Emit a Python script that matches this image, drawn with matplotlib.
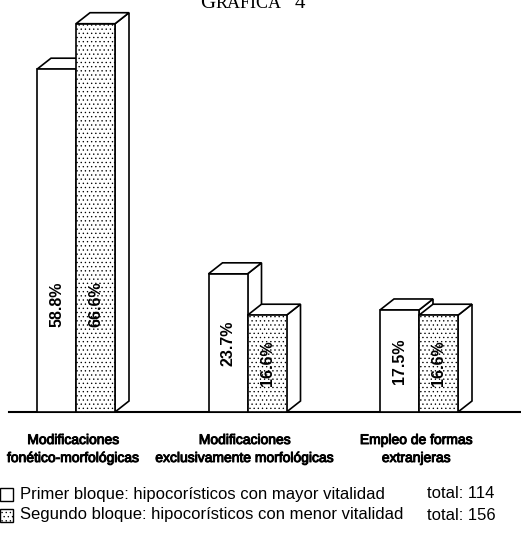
import matplotlib
matplotlib.use("Agg")
import matplotlib.pyplot as plt
import matplotlib.patheffects as pe
from matplotlib.patches import Rectangle, Polygon

# datos
categorias = [["Modificaciones", "fonético-morfológicas"],
              ["Modificaciones", "exclusivamente morfológicas"],
              ["Empleo de formas", "extranjeras"]]
primer_bloque = [58.8, 23.7, 17.5]
segundo_bloque = [66.6, 16.6, 16.6]
leyenda = ["Primer bloque: hipocorísticos con mayor vitalidad",
           "Segundo bloque: hipocorísticos con menor vitalidad"]
totales = ["total: 114", "total: 156"]

W, H = 521, 535
fig = plt.figure(figsize=(W / 100, H / 100), dpi=100)
ax = fig.add_axes([0, 0, 1, 1])

# escala: px por unidad
px_x = 171.5
px_y = 5.83
x0_px, base_px = 76, 412
ax.set_xlim(-x0_px / px_x, (W - x0_px) / px_x)
ax.set_ylim(-(H - base_px) / px_y, base_px / px_y)
ax.axis("off")

ancho = 39 / px_x
dx = 14 / px_x
dy = 11 / px_y

sans = ["Liberation Sans", "DejaVu Sans"]
grueso = [pe.withStroke(linewidth=0.7, foreground="black")]

plt.rcParams["hatch.linewidth"] = 0.45


def barra3d(x, h, punteada, z):
    frente = Rectangle((x, 0), ancho, h, facecolor="white", edgecolor="black",
                       lw=1.2, zorder=z, hatch="...." if punteada else None)
    arriba = Polygon([(x, h), (x + dx, h + dy), (x + ancho + dx, h + dy), (x + ancho, h)],
                     closed=True, facecolor="white", edgecolor="black", lw=1.2, zorder=z)
    lado = Polygon([(x + ancho, 0), (x + ancho + dx, dy), (x + ancho + dx, h + dy), (x + ancho, h)],
                   closed=True, facecolor="white", edgecolor="black", lw=1.2, zorder=z)
    for p in (lado, arriba, frente):
        ax.add_patch(p)


for i in range(len(categorias)):
    barra3d(i - ancho, primer_bloque[i], False, 2 + 2 * i)
    barra3d(i, segundo_bloque[i], True, 3 + 2 * i)
    for xb, v in ((i - ancho / 2, primer_bloque[i]), (i + ancho / 2, segundo_bloque[i])):
        ax.text(xb, min(v / 2, 18.5), f"{v:.1f}%", rotation=90, ha="center", va="center",
                fontsize=11.5, fontweight="bold", family=sans, zorder=20)
    ax.text(i - 0.015, -28 / px_y, categorias[i][0], ha="center", va="center",
            fontsize=10, family=sans, path_effects=grueso)
    ax.text(i - 0.015, -46 / px_y, categorias[i][1], ha="center", va="center",
            fontsize=10, family=sans, path_effects=grueso)

# línea base
ax.plot([(9 - x0_px) / px_x, (W - x0_px) / px_x], [0, 0], color="black", lw=1.5, zorder=1)

# título (versalitas)
fig.text(200 / W, 1 - 8 / H, "G", family=["Liberation Serif"], fontsize=15, va="baseline")
fig.text(216 / W, 1 - 8 / H, "RÁFICA", family=["Liberation Serif"], fontsize=13, va="baseline")
fig.text(295 / W, 1 - 8 / H, "4", family=["Liberation Serif"], fontsize=15, va="baseline")

# leyenda
for j, (txt, tot) in enumerate(zip(leyenda, totales)):
    yc = 494 + 21 * j
    fig.patches.append(Rectangle((0, 1 - (yc + 6.5) / H), 13 / W, 13 / H, transform=fig.transFigure,
                                 facecolor="white", edgecolor="black", lw=1,
                                 hatch="...." if j == 1 else None))
    fig.text(20 / W, 1 - yc / H, txt, family=sans, fontsize=12, va="center")
    fig.text(427 / W, 1 - yc / H, tot, family=sans, fontsize=12, va="center")

fig.savefig("out.png", dpi=100)
